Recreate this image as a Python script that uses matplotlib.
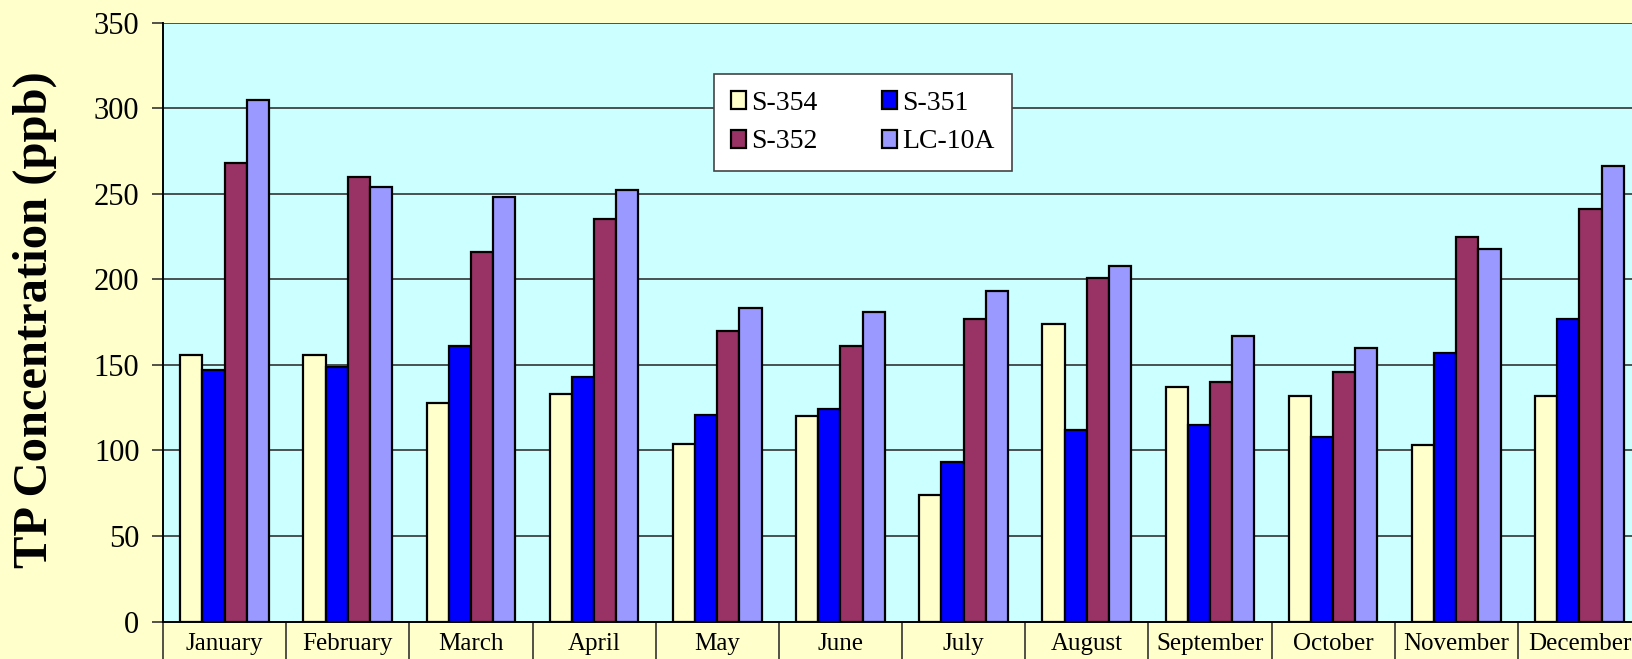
import numpy as np
import matplotlib
matplotlib.use("Agg")
import matplotlib.pyplot as plt

# Datos (TP en ppb)
meses = ["January", "February", "March", "April", "May", "June",
         "July", "August", "September", "October", "November", "December"]
s354 = [156, 156, 128, 133, 104, 120, 74, 174, 137, 132, 103, 132]
s351 = [147, 149, 161, 143, 121, 124, 93, 112, 115, 108, 157, 177]
s352 = [268, 260, 216, 235, 170, 161, 177, 201, 140, 146, 225, 241]
lc10a = [305, 254, 248, 252, 183, 181, 193, 208, 167, 160, 218, 266]

series = [("S-354", s354, "#FFFFCC"),
          ("S-351", s351, "#0000FF"),
          ("S-352", s352, "#993366"),
          ("LC-10A", lc10a, "#9999FF")]

plt.rcParams["font.family"] = ["Liberation Serif", "DejaVu Serif"]

fig = plt.figure(figsize=(16.32, 6.59), dpi=100, facecolor="#FFFFCC")
# el area de trazado se sale un poco por la derecha, como en la imagen original
ax = fig.add_axes([163 / 1632, 37.4 / 659, 1478 / 1632, 599 / 659])
ax.set_facecolor("#CCFFFF")

x = np.arange(len(meses))
ancho = 0.18
barras = []
for i, (nombre, valores, color) in enumerate(series):
    b = ax.bar(x + (i - 1.5) * ancho, valores, ancho, color=color,
               edgecolor="black", linewidth=1.6, label=nombre, zorder=3)
    barras.append(b)

ax.set_xlim(-0.5, len(meses) - 0.5)
ax.set_ylim(0, 350)
ax.set_yticks(np.arange(0, 351, 50))
ax.yaxis.grid(True, color="#333333", linewidth=1.2, zorder=1)
ax.tick_params(axis="y", direction="out", length=8, width=1.2,
               color="#333333", labelsize=22, pad=9)

ax.set_xticks(x)
ax.set_xticklabels(meses, fontsize=18)
ax.tick_params(axis="x", which="major", length=0, pad=8)
ax.set_xticks(np.arange(-0.5, len(meses)), minor=True)
ax.tick_params(axis="x", which="minor", direction="out", length=40,
               width=1.2, color="#333333")

for lado in ["top", "right"]:
    ax.spines[lado].set_visible(False)
ax.spines["left"].set_linewidth(1.4)
ax.spines["bottom"].set_linewidth(1.4)

fig.text(35 / 1632, 1 - 320 / 659, "TP Concentration (ppb)", rotation=90,
         fontsize=35, fontweight="bold", ha="center", va="center")

orden = [barras[0], barras[2], barras[1], barras[3]]
leg = ax.legend(orden, [s[0] for s in [series[0], series[2], series[1], series[3]]],
                ncol=2, loc="upper left", bbox_to_anchor=(0.3728, 0.9143),
                borderaxespad=0, fontsize=20, fancybox=False, framealpha=1,
                edgecolor="#444444", handlelength=0.55, handleheight=0.6,
                handletextpad=0.2, columnspacing=2.3, borderpad=0.6,
                labelspacing=0.5)
leg.get_frame().set_linewidth(1.2)

fig.savefig("out.png", dpi=100, facecolor=fig.get_facecolor())
